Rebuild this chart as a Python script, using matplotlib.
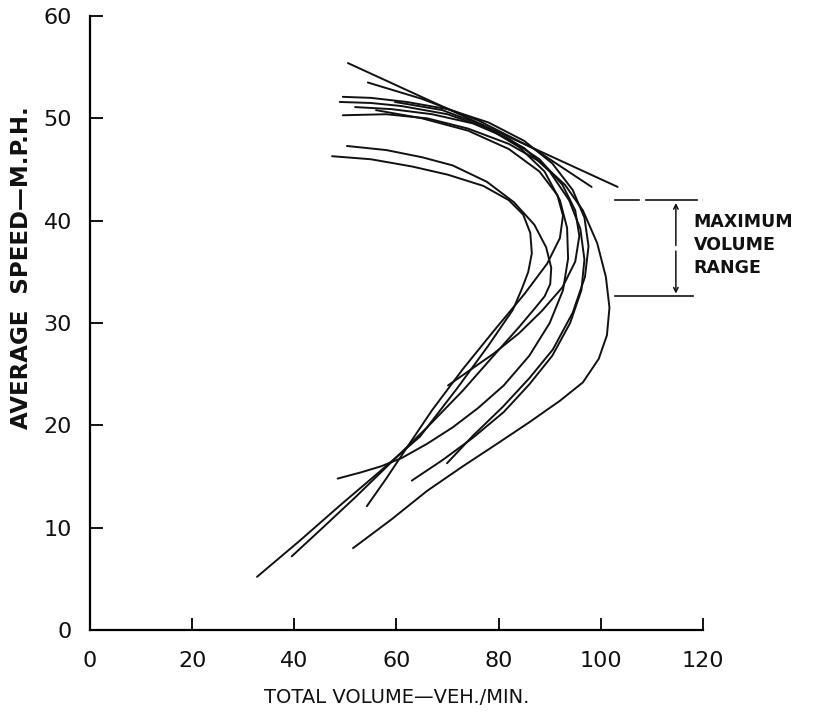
import matplotlib.pyplot as plt

# volume (veh/min) vs. average speed (mph), one pair of lists per curve
a_vol = [50.5, 103.3]
a_spd = [55.4, 43.3]

b_vol = [54.4, 65, 76, 87, 98.2]
b_spd = [53.5, 51.9, 49.8, 47.0, 43.3]

c1_vol = [49.5, 58, 66, 74, 82, 88, 93, 96.5, 99.3, 101.0, 101.7, 101.2, 99.6, 96.5, 92, 86, 80, 73, 66, 59, 51.5]
c1_spd = [50.3, 50.4, 50.0, 49.0, 47.5, 45.8, 43.5, 41.0, 37.8, 34.5, 31.5, 28.8, 26.5, 24.2, 22.4, 20.3, 18.3, 16.0, 13.6, 10.8, 8.0]

c2_vol = [49.5, 55, 62, 70, 78, 85, 90.5, 94.5, 96.8, 97.6, 96.9, 94.5, 90.6, 86, 80.8, 75, 69.9]
c2_spd = [52.1, 52.0, 51.6, 50.9, 49.6, 47.8, 45.6, 43.0, 40.3, 37.5, 34.5, 31.0, 27.4, 24.6, 21.8, 19.0, 16.3]

c3_vol = [48.9, 55, 61, 70, 78, 85, 90, 93.8, 96.0, 96.8, 96.2, 94, 90.5, 86, 81, 75, 69, 63]
c3_spd = [51.6, 51.5, 51.2, 50.4, 49.0, 47.1, 44.8, 42.0, 39.2, 36.2, 33.2, 30.0, 26.8, 24.0, 21.3, 18.8, 16.6, 14.6]

c5_vol = [51.9, 59, 67, 75, 82, 88, 92.5, 95, 95.8, 95, 92.5, 88.5, 84, 79, 74.4, 70.1]
c5_spd = [51.1, 50.9, 50.4, 49.5, 48.0, 46.0, 43.5, 41.0, 38.5, 36.0, 33.5, 31.2, 29.0, 27.0, 25.4, 23.9]

c6_vol = [56, 65, 74, 82, 88, 91.5, 92.6, 92, 89.5, 85, 79, 73, 67, 62, 58, 54.2]
c6_spd = [50.8, 50.0, 48.8, 47.0, 44.8, 42.5, 40.5, 38.3, 35.8, 32.8, 29.2, 25.5, 21.5, 17.8, 14.8, 12.1]

c7_vol = [59.7, 69, 77, 84, 89, 92, 93.4, 93.6, 92.6, 90, 86, 81, 76, 71, 66, 61, 57, 53, 48.5]
c7_spd = [51.6, 50.8, 49.3, 47.2, 44.8, 42.0, 39.3, 36.3, 33.2, 30.0, 26.8, 23.9, 21.7, 19.8, 18.2, 16.8, 16.0, 15.4, 14.8]

c10_vol = [47.4, 55, 63, 70, 77, 82, 84.8, 86.2, 86.5, 85.8, 84.6, 82.8, 78, 72, 64.6, 57, 49, 41, 32.7]
c10_spd = [46.3, 46.0, 45.3, 44.5, 43.4, 42.0, 40.6, 38.8, 36.8, 35.0, 33.4, 31.3, 27.8, 23.7, 18.9, 15.6, 12.2, 8.7, 5.2]

c11_vol = [50.3, 58, 65, 71, 77.7, 83, 87, 89.3, 90.3, 90.1, 89.0, 87.2, 84, 79, 73, 66, 59, 52, 46, 39.5]
c11_spd = [47.3, 46.9, 46.2, 45.4, 43.8, 41.8, 39.6, 37.4, 35.4, 33.8, 32.6, 31.5, 29.6, 26.8, 23.4, 19.8, 16.4, 13.0, 10.2, 7.2]

curves = [(a_vol, a_spd), (b_vol, b_spd), (c1_vol, c1_spd), (c2_vol, c2_spd),
          (c3_vol, c3_spd), (c5_vol, c5_spd), (c6_vol, c6_spd), (c7_vol, c7_spd),
          (c10_vol, c10_spd), (c11_vol, c11_spd)]

range_top = 42.0
range_bot = 32.6

fig = plt.figure(figsize=(8.21, 7.14), dpi=100)
ax = fig.add_axes([0.1096, 0.1176, 0.7466, 0.86])

for vol, spd in curves:
    ax.plot(vol, spd, color='#111111', lw=1.4, solid_capstyle='round', solid_joinstyle='round')

# maximum volume range marker
ax.plot([102.7, 107.5], [range_top, range_top], color='#111111', lw=1.2, clip_on=False)
ax.plot([108.8, 118.8], [range_top, range_top], color='#111111', lw=1.2, clip_on=False)
ax.plot([102.7, 118.0], [range_bot, range_bot], color='#111111', lw=1.2, clip_on=False)
ax.annotate('', xy=(114.7, range_top), xytext=(114.7, 37.3),
            arrowprops=dict(arrowstyle='->', color='#111111', lw=1.1, mutation_scale=8))
ax.annotate('', xy=(114.7, range_bot), xytext=(114.7, 37.3),
            arrowprops=dict(arrowstyle='->', color='#111111', lw=1.1, mutation_scale=8))
ax.text(118.2, 37.6, 'MAXIMUM\nVOLUME\nRANGE', fontsize=12.5, fontweight='bold',
        ha='left', va='center', linespacing=1.35, color='#111111', clip_on=False)

ax.set_xlim(0, 120)
ax.set_ylim(0, 60)
ax.set_xticks(range(0, 121, 20))
ax.set_yticks(range(0, 61, 10))
for s in ['top', 'right']:
    ax.spines[s].set_visible(False)
for s in ['left', 'bottom']:
    ax.spines[s].set_linewidth(1.6)
ax.tick_params(axis='both', direction='in', length=9, width=1.4, labelsize=16, colors='#111111')
ax.tick_params(axis='x', pad=15)
ax.tick_params(axis='y', pad=13)

ax.set_xlabel('TOTAL VOLUME—VEH./MIN.', fontsize=14, labelpad=12, color='#111111')
ax.set_ylabel('AVERAGE  SPEED—M.P.H.', fontsize=16.5, fontweight='bold', color='#111111')
ax.yaxis.set_label_coords(-0.093, 0.59)

fig.savefig('out.png', dpi=100)
